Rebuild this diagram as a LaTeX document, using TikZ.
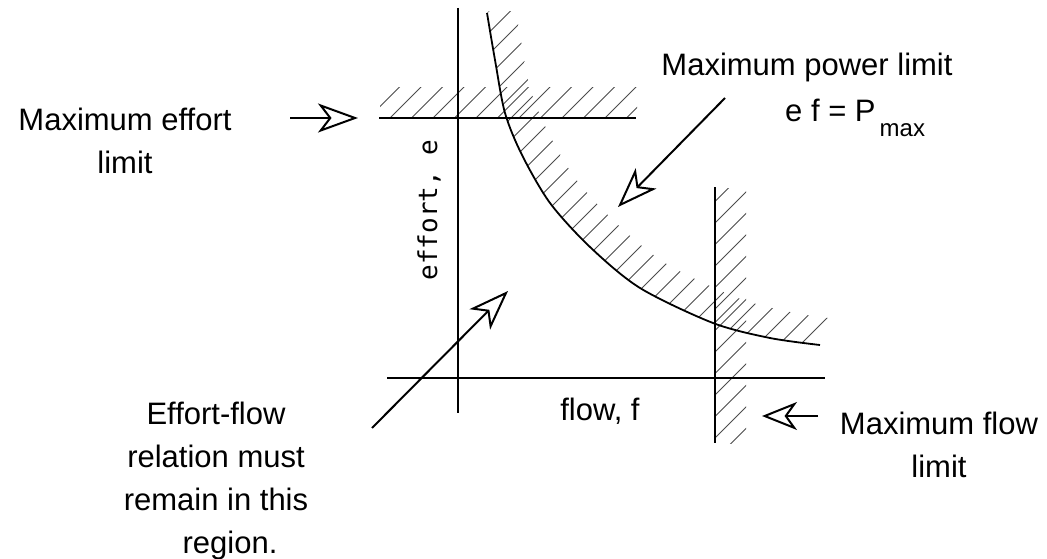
\documentclass[tikz,border=0pt]{standalone}
\usepackage{fontspec}
\setmainfont{Liberation Sans}
\newfontfamily\monof{DejaVu Sans Mono}
\usetikzlibrary{arrows.meta}
\begin{document}
\begin{tikzpicture}[x=1pt,y=-1pt,
 lbl/.style={font=\fontsize{31}{43}\selectfont, align=center, inner sep=0pt, anchor=base},
 axisline/.style={line width=2pt, line cap=butt},
 hatch/.style={line width=0.9pt, black!70},
 ptr/.style={line width=2pt, -{Stealth[open, length=40pt, width=29pt, inset=11pt]}}]
\useasboundingbox[fill=white] (0,0) rectangle (1047,559);
% hatching: maximum effort band
\begin{scope}
\clip (380,88) rectangle (637,118);
\foreach \k in {0,...,45} \draw[hatch] ({508+21.5*(\k-12)},0) -- ++(-559,559);
\end{scope}
% hatching: maximum flow band
\begin{scope}
\clip (715,188) rectangle (746,443);
\foreach \k in {0,...,45} \draw[hatch] ({508+21.5*(\k-12)},0) -- ++(-559,559);
\end{scope}
% hatching: maximum power band
\begin{scope}
\clip (0,12) rectangle (836,559);
\clip plot[smooth] coordinates {(487,13) (495,60) (505,113) (522,155) (550,203) (590,247) (640,288) (713,323) (770,338) (820,345)}
 -- plot[smooth] coordinates {(845,320) (795,313) (738,298) (665,263) (615,222) (575,178) (547,130) (530,88) (520,35) (512,-12)} -- cycle;
\foreach \k in {0,...,60} \draw[hatch] ({500+21.5*(\k-12)},0) -- ++(-559,559);
\end{scope}
% axes and limit lines
\draw[axisline] (458,8) -- (458,413);
\draw[axisline] (387,378) -- (825,378);
\draw[axisline] (379,118) -- (636,118);
\draw[axisline] (715,187) -- (715,443);
\draw[line width=1.8pt] plot[smooth] coordinates {(487,13) (495,60) (505,113) (522,155) (550,203) (590,247) (640,288) (713,323) (770,338) (820,345)};
% labels
\node[lbl] (efflim) at (125,173) {Maximum effort\\limit};
\node[lbl] (powlim) at (807,76) {Maximum power limit};
\node[lbl, anchor=base west] (formula) at (785,122) {e f = P\hspace{4pt}\raisebox{-15pt}{\fontsize{24}{24}\selectfont max}};
\node[lbl] (region) at (216,553) {Effort-flow\\relation must\\remain in this\\\hspace*{28pt}region.};
\node[lbl] (flowlim) at (939,477) {Maximum flow\\limit};
\node[lbl] (flowax) at (600,420) {flow, f};
\node[inner sep=0pt, anchor=base, rotate=90, font=\monof\fontsize{26}{30}\selectfont] (effax) at (437,210) {effort, e};
% arrows
\coordinate (effTail) at (290,118);
\coordinate (effTip) at (358,118);
\coordinate (powTail) at (725,98);
\coordinate (powTip) at (618,207);
\coordinate (regTail) at (372,428);
\coordinate (regTip) at (508,291);
\coordinate (flowTail) at (818,416);
\coordinate (flowTip) at (762,416);
\draw[ptr] (effTail) -- (effTip);
\draw[ptr] (powTail) -- (powTip);
\draw[ptr] (regTail) -- (regTip);
\draw[ptr, -{Stealth[open, length=35pt, width=28pt, inset=10pt]}] (flowTail) -- (flowTip);
\end{tikzpicture}
\end{document}
